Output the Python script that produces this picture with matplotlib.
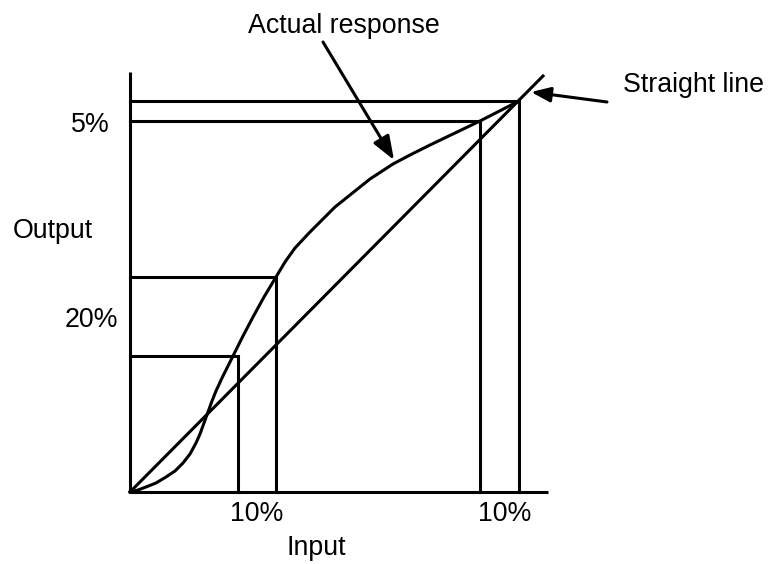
import matplotlib.pyplot as plt

plt.rcParams['font.family'] = ['Liberation Sans', 'DejaVu Sans']

# actual response curve (input, output)
curve_x = [0, 8, 16, 26, 36, 45, 53, 60, 66, 70, 74, 78, 82, 86, 92, 98, 103,
           113, 123, 134, 146, 155, 165, 179, 192, 205, 220, 240, 263, 280,
           300, 325, 350, 389]
curve_y = [0, 2, 5, 9, 15, 21, 29, 38, 49, 58, 69, 80, 91, 101, 114, 126, 136,
           156, 175, 195, 215, 230, 244, 259, 272, 285, 297, 313, 328, 337,
           347, 359, 371, 391]

# straight reference line
line_x = [0, 413]
line_y = [0, 416]

# projection boxes: (input, output)
boxes = [(108, 136), (146, 215), (350, 371), (389, 391)]

# axis ends
x_axis_end = 418
y_axis_end = 420

fig = plt.figure(figsize=(7.7, 5.64), dpi=100)
ax = fig.add_axes([0, 0, 1, 1])
ax.set_xlim(-130, 640)
ax.set_ylim(-72, 492)
ax.axis('off')

lw = 2.2
# axes
ax.plot([0, x_axis_end], [0, 0], color='k', lw=lw, solid_capstyle='butt')
ax.plot([0, 0], [0, y_axis_end], color='k', lw=lw, solid_capstyle='butt')

# projection lines
for bx, by in boxes:
    ax.plot([0, bx, bx], [by, by, 0], color='k', lw=lw, solid_joinstyle='miter')

ax.plot(line_x, line_y, color='k', lw=lw)
ax.plot(curve_x, curve_y, color='k', lw=lw, solid_joinstyle='round')

fs = 19.3
ax.text(214, 459, 'Actual response', fontsize=fs, ha='center', va='baseline')
ax.text(493, 400, 'Straight line', fontsize=fs, ha='left', va='baseline')
ax.text(-20, 360, '5%', fontsize=fs, ha='right', va='baseline')
ax.text(-12, 165, '20%', fontsize=fs, ha='right', va='baseline')
ax.text(-117, 254, 'Output', fontsize=fs, ha='left', va='baseline')
ax.text(127, -29, '10%', fontsize=fs, ha='center', va='baseline')
ax.text(375, -29, '10%', fontsize=fs, ha='center', va='baseline')
ax.text(186, -63, 'Input', fontsize=fs, ha='center', va='baseline')

# arrows
ax.annotate('', xy=(264, 332), xytext=(193, 450),
            arrowprops=dict(arrowstyle='-|>,head_length=0.8,head_width=0.3',
                            mutation_scale=18, color='k', lw=lw,
                            shrinkA=0, shrinkB=0))
ax.annotate('', xy=(401, 400), xytext=(477, 390),
            arrowprops=dict(arrowstyle='-|>,head_length=0.65,head_width=0.25',
                            mutation_scale=18, color='k', lw=lw,
                            shrinkA=0, shrinkB=0))

fig.savefig('out.png', dpi=100)
